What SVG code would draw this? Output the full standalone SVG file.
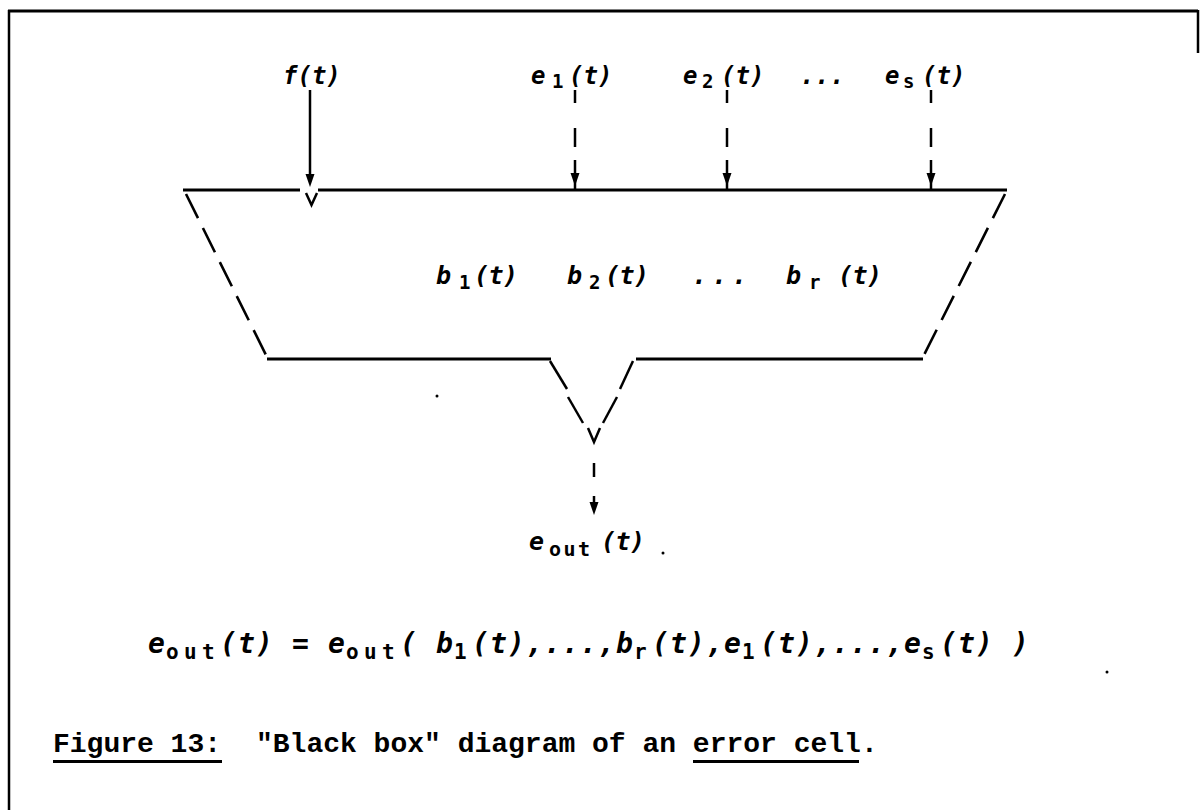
<svg xmlns="http://www.w3.org/2000/svg" width="1200" height="810" viewBox="0 0 1200 810">
<style>
.ln{stroke:#000;stroke-width:3;fill:none;stroke-linecap:butt}
.th{stroke:#000;stroke-width:2.5;fill:none}
.dsh{stroke:#000;stroke-width:2.6;fill:none;stroke-dasharray:27 11}
.ah{fill:#000;stroke:none}
.m{font-family:"DejaVu Sans Mono","Liberation Mono",monospace;font-weight:bold;font-style:italic;fill:#000}
.top{font-size:24px;letter-spacing:0}
.bl{font-size:25px;letter-spacing:-0.6px}
.fm{font-size:28px;letter-spacing:1.14px}
.sb{font-size:19px;letter-spacing:0;font-style:normal}
.fs{font-size:21px;letter-spacing:5.36px;font-style:normal}
.os{font-size:20px;letter-spacing:2.5px;font-style:normal}
.cap{font-family:"Liberation Mono","Courier New",monospace;font-size:28px;font-weight:bold;fill:#000}
</style>

<g id="frame">
<line class="ln" x1="8" y1="11" x2="1198" y2="11"/>
<line class="th" x1="9" y1="10" x2="9" y2="810"/>
<line class="th" x1="1198" y1="10" x2="1198" y2="53"/>
</g>

<g id="error-cell">
<line class="ln" x1="183" y1="190" x2="300" y2="190"/>
<line class="ln" x1="318" y1="190" x2="1007" y2="190"/>
<polyline class="th" points="306,193 311.5,205 317,193"/>
<line class="dsh" x1="186" y1="194" x2="267" y2="357"/>
<line class="dsh" x1="1005" y1="194" x2="923" y2="357"/>
<line class="ln" x1="267" y1="359" x2="551" y2="359"/>
<line class="ln" x1="636" y1="359" x2="923" y2="359"/>
<line class="th" x1="550" y1="361" x2="567" y2="389"/>
<line class="th" x1="568" y1="397" x2="583" y2="423"/>
<line class="th" x1="633" y1="361" x2="620" y2="389"/>
<line class="th" x1="617" y1="397" x2="603" y2="423"/>
<polyline class="th" points="588,428 594,442 600,428"/>
<text class="m bl" x="436" y="284">b<tspan class="sb" x="459" dy="5">1</tspan><tspan x="474" dy="-5">(t)</tspan></text>
<text class="m bl" x="567" y="284">b<tspan class="sb" x="589" dy="5">2</tspan><tspan x="605" dy="-5">(t)</tspan></text>
<text class="m bl" x="692" y="284" style="letter-spacing:5px">...</text>
<text class="m bl" x="786" y="284">b<tspan class="sb" x="809" dy="5">r</tspan><tspan x="838" dy="-5">(t)</tspan></text>
</g>

<g id="inputs">
<text class="m top" x="283" y="84">f(t)</text>
<text class="m top" x="531" y="84">e<tspan class="sb" x="552" dy="4">1</tspan><tspan x="569" dy="-4">(t)</tspan></text>
<text class="m top" x="683" y="84">e<tspan class="sb" x="702" dy="4">2</tspan><tspan x="721" dy="-4">(t)</tspan></text>
<text class="m top" x="800" y="84" style="letter-spacing:0.5px">...</text>
<text class="m top" x="885" y="84">e<tspan class="sb" x="903" dy="4">s</tspan><tspan x="922" dy="-4">(t)</tspan></text>
</g>

<g id="output">
<text class="m bl" x="529" y="550">e<tspan class="os" x="549" dy="6">out</tspan><tspan x="601" dy="-6">(t)</tspan></text>
</g>

<g id="connectors">
<line class="th" x1="310" y1="90" x2="310" y2="176"/>
<polygon class="ah" points="305.5,174 314.5,174 310,187"/>
<line class="th" x1="575" y1="90" x2="575" y2="103"/>
<line class="th" x1="575" y1="128" x2="575" y2="147"/>
<line class="th" x1="575" y1="160" x2="575" y2="190"/>
<polygon class="ah" points="570.5,173 579.5,173 575,186"/>
<line class="th" x1="727" y1="90" x2="727" y2="103"/>
<line class="th" x1="727" y1="128" x2="727" y2="147"/>
<line class="th" x1="727" y1="160" x2="727" y2="190"/>
<polygon class="ah" points="722.5,173 731.5,173 727,186"/>
<line class="th" x1="931" y1="90" x2="931" y2="103"/>
<line class="th" x1="931" y1="128" x2="931" y2="147"/>
<line class="th" x1="931" y1="160" x2="931" y2="190"/>
<polygon class="ah" points="926.5,173 935.5,173 931,186"/>
<line class="th" x1="594" y1="463" x2="594" y2="477"/>
<line class="th" x1="594" y1="496" x2="594" y2="506"/>
<polygon class="ah" points="589.5,502 598.5,502 594,515"/>
</g>

<g id="formula">
<text class="m fm" x="148" y="653" xml:space="preserve">e<tspan class="fs" dy="6">out</tspan><tspan dy="-6">(t) = e</tspan><tspan class="fs" dy="6">out</tspan><tspan dy="-6">( b</tspan><tspan class="fs" dy="6">1</tspan><tspan dy="-6">(t),...,b</tspan><tspan class="fs" dy="6">r</tspan><tspan dy="-6">(t),e</tspan><tspan class="fs" dy="6">1</tspan><tspan dy="-6">(t),...,e</tspan><tspan class="fs" dy="6">s</tspan><tspan dy="-6">(t) )</tspan></text>
</g>

<g id="caption">
<text class="cap" x="53" y="752">Figure 13:</text>
<text class="cap" x="256" y="752">"Black box" diagram of an error cell.</text>
<rect x="53" y="760" width="169" height="3" fill="#000"/>
<rect x="693" y="760" width="166" height="3" fill="#000"/>
</g>

<g id="specks" fill="#000">
<circle cx="437" cy="396" r="1.5"/>
<circle cx="663" cy="553" r="1.5"/>
<circle cx="1107" cy="672" r="1.5"/>
</g>
</svg>
